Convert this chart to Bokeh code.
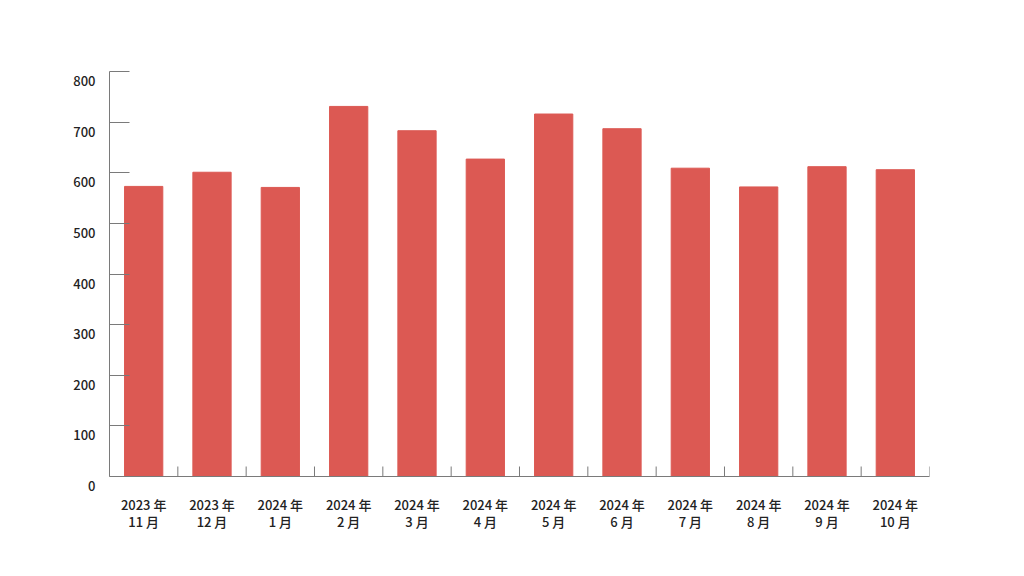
from bokeh.plotting import figure
from bokeh.models import FactorRange, Range1d, FixedTicker
from bokeh.embed import file_html
from bokeh.resources import INLINE

months = ["2023 年\n11 月", "2023 年\n12 月", "2024 年\n1 月", "2024 年\n2 月",
          "2024 年\n3 月", "2024 年\n4 月", "2024 年\n5 月", "2024 年\n6 月",
          "2024 年\n7 月", "2024 年\n8 月", "2024 年\n9 月", "2024 年\n10 月"]
values = [573, 601, 571, 731, 683, 627, 716, 687, 609, 572, 612, 606]
y_ticks = [0, 100, 200, 300, 400, 500, 600, 700, 800]

FONT = "Noto Sans CJK JP Medium, Noto Sans CJK JP"
BAR = "#dc5953"
AXIS = "#7a7a7a"
TXT = "#222222"

p = figure(width=1008, height=560, output_backend="svg", toolbar_location=None,
           x_range=FactorRange(factors=months, range_padding=0),
           y_range=Range1d(0, 800),
           min_border_left=109, min_border_right=79, min_border_top=71, min_border_bottom=84)
p.outline_line_color = None
p.grid.visible = False

p.vbar(x=months, top=values, width=0.56, color=BAR)

# category boundary ticks on the x axis (pointing up, 10px)
bounds = list(range(1, len(months) + 1))
p.ray(x=bounds, y=[0] * len(bounds), length=10, length_units="screen", angle=1.5708,
      line_color=AXIS, line_width=1)

xa = p.xaxis[0]
xa.axis_line_color = AXIS
xa.major_tick_line_color = None
xa.minor_tick_line_color = None
xa.major_label_text_font = FONT
xa.major_label_text_font_size = "13px"
xa.major_label_text_color = TXT
xa.major_label_standoff = 12
xa.major_label_text_line_height = 0.9

ya = p.yaxis[0]
ya.ticker = FixedTicker(ticks=y_ticks)
ya.axis_line_color = AXIS
ya.major_tick_in = 20
ya.major_tick_out = 0
ya.major_tick_line_color = AXIS
ya.minor_tick_line_color = None
ya.major_label_text_font = FONT
ya.major_label_text_font_size = "13px"
ya.major_label_text_color = TXT
ya.major_label_standoff = 14
ya.major_label_text_line_height = 0.95
# labels sit just below their tick marks, as in the original
ya.major_label_overrides = {v: "\n" + str(v) for v in y_ticks}

open("out.html", "w").write(file_html(p, INLINE))
